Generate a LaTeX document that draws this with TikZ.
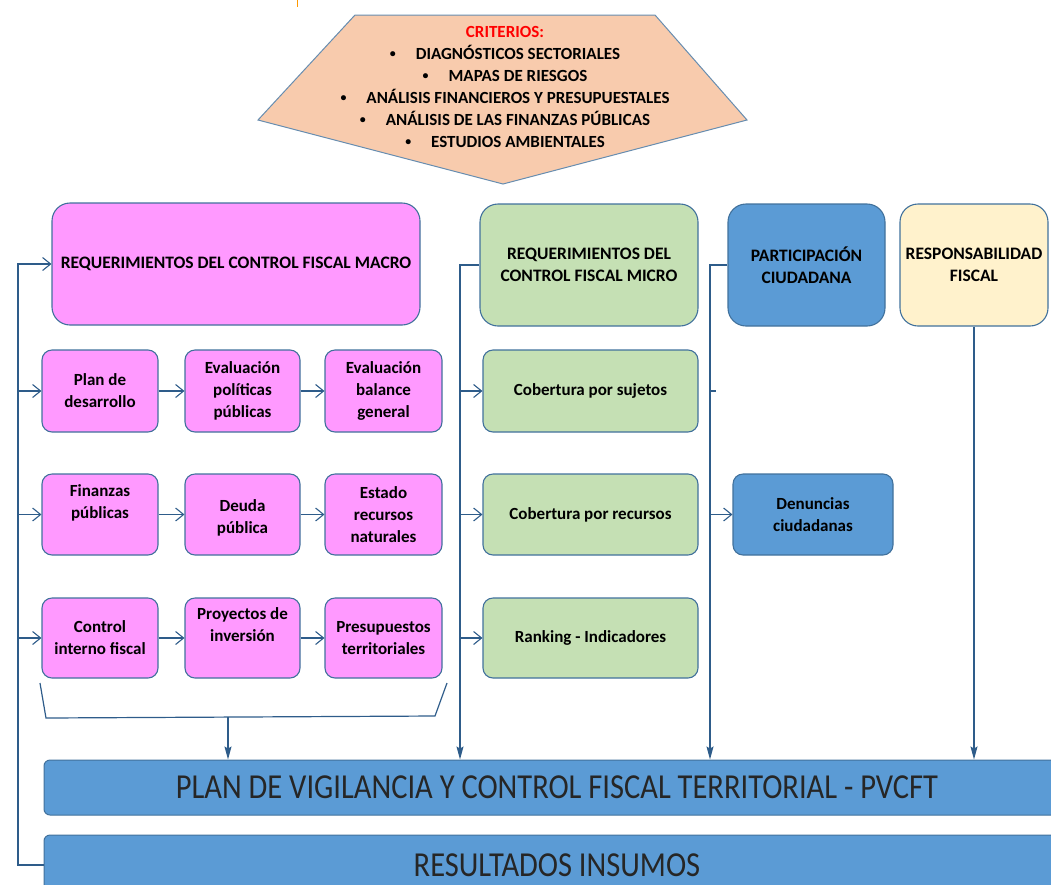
\documentclass[tikz,border=0pt]{standalone}
\usepackage{fontspec}
\setmainfont{Carlito}
\usetikzlibrary{arrows.meta}
\definecolor{bordc}{HTML}{41719C}
\definecolor{linec}{HTML}{2E5C8A}
\definecolor{pinkf}{HTML}{FF99FF}
\definecolor{greenf}{HTML}{C5E0B4}
\definecolor{bluef}{HTML}{5B9BD5}
\definecolor{yellf}{HTML}{FFF2CC}
\definecolor{peachf}{HTML}{F8CBAD}
\definecolor{redt}{HTML}{FF0000}
\newcommand{\bul}{\raisebox{1.5pt}{\scalebox{0.7}{\textbullet}}\hspace{20pt}}
\begin{document}
\begin{tikzpicture}[x=1pt,y=-1pt,
  box/.style={draw=bordc, line width=1.1pt, rounded corners=10pt, inner sep=0pt, align=center,
    font=\bfseries\fontsize{17}{22}\selectfont, text=black},
  bigbox/.style={box, rounded corners=18pt, font=\bfseries\fontsize{17.5}{22}\selectfont},
  pinkbox/.style={box, fill=pinkf},
  greenbox/.style={box, fill=greenf},
  bluebox/.style={box, fill=bluef},
  bar/.style={draw=bordc, line width=1pt, fill=bluef, rounded corners=6pt, inner sep=0pt,
    font=\fontsize{30.5}{32}\selectfont, text=black!85},
  conn/.style={draw=linec, line width=1.2pt},
  openarr/.style={conn, -{Straight Barb[length=8pt,width=13pt,line width=1.1pt]}},
  triarr/.style={conn, -{Stealth[length=13pt,width=7pt,inset=2pt]}}
]
\useasboundingbox (0,0) rectangle (1051,884);

% small yellow mark at top
\draw[draw=orange!80!yellow, line width=1.2pt] (297.5,0) -- (297.5,7);

% criteria pentagon
\coordinate (pA) at (355,15);
\coordinate (pB) at (655,15);
\coordinate (pC) at (747,120);
\coordinate (pD) at (503,184);
\coordinate (pE) at (258,120);
\draw[draw=bordc!80, line width=1pt, fill=peachf] (pA) -- (pB) -- (pC) -- (pD) -- (pE) -- cycle;
\node[align=center, font=\bfseries\fontsize{17}{22}\selectfont, inner sep=0pt, anchor=north] (crit) at (505,26)
  {\textcolor{redt}{CRITERIOS:}\\
   \bul DIAGNÓSTICOS SECTORIALES\\
   \bul MAPAS DE RIESGOS\\
   \bul ANÁLISIS FINANCIEROS Y PRESUPUESTALES\\
   \bul ANÁLISIS DE LAS FINANZAS PÚBLICAS\\
   \bul ESTUDIOS AMBIENTALES};

% macro column
\node[bigbox, fill=pinkf, minimum width=368pt, minimum height=122pt] (macro) at (236,264)
  {REQUERIMIENTOS DEL CONTROL FISCAL MACRO};
\node[pinkbox, minimum width=116pt, minimum height=82pt] (a1) at (100,391) {Plan de\\desarrollo};
\node[pinkbox, minimum width=115pt, minimum height=82pt] (b1) at (242.5,391) {Evaluación\\políticas\\públicas};
\node[pinkbox, minimum width=117pt, minimum height=82pt] (c1) at (383.5,391) {Evaluación\\balance\\general};
\node[pinkbox, minimum width=116pt, minimum height=81pt] (a2) at (100,514.5) {Finanzas\\públicas\\[4pt]};
\node[pinkbox, minimum width=115pt, minimum height=81pt] (b2) at (242.5,514.5) {\\[-4pt]Deuda\\pública};
\node[pinkbox, minimum width=117pt, minimum height=81pt] (c2) at (383.5,514.5) {Estado\\recursos\\naturales};
\node[pinkbox, minimum width=116pt, minimum height=80pt] (a3) at (100,638) {Control\\interno fiscal};
\node[pinkbox, minimum width=115pt, minimum height=80pt] (b3) at (242.5,638) {Proyectos de\\inversión\\[4pt]};
\node[pinkbox, minimum width=117pt, minimum height=80pt] (c3) at (383.5,638) {Presupuestos\\territoriales};

% micro column
\node[bigbox, fill=greenf, minimum width=218pt, minimum height=122pt] (micro) at (589,265)
  {REQUERIMIENTOS DEL\\CONTROL FISCAL MICRO};
\node[greenbox, minimum width=215pt, minimum height=82pt] (g1) at (590.5,391) {Cobertura por sujetos};
\node[greenbox, minimum width=215pt, minimum height=81pt] (g2) at (590.5,514.5) {Cobertura por recursos};
\node[greenbox, minimum width=215pt, minimum height=80pt] (g3) at (590.5,638) {Ranking - Indicadores};

% participation
\node[bigbox, fill=bluef, minimum width=157pt, minimum height=122pt] (part) at (806.5,265)
  {PARTICIPACIÓN\\CIUDADANA};
\node[bluebox, minimum width=160pt, minimum height=81pt] (den) at (813,514.5) {Denuncias\\ciudadanas};

% responsibility
\node[bigbox, fill=yellf, minimum width=148pt, minimum height=122pt] (resp) at (974,265)
  {RESPONSABILIDAD\\FISCAL};

% bottom bars
\node[bar, minimum width=1026pt, minimum height=55pt] (pv) at (557,787.5)
  {\scalebox{1}[1.15]{PLAN DE VIGILANCIA Y CONTROL FISCAL TERRITORIAL - PVCFT}};
\node[bar, minimum width=1026pt, minimum height=60pt] (res) at (557,865)
  {\scalebox{1}[1.15]{RESULTADOS INSUMOS}};

% left feedback line
\coordinate (lt) at (18,264);
\draw[openarr] (res.west) -| (lt) -- (macro.west);
\draw[openarr] (lt |- a1.west) -- (a1.west);
\draw[openarr] (lt |- a2.west) -- (a2.west);
\draw[openarr] (lt |- a3.west) -- (a3.west);

% row arrows
\draw[openarr] (a1.east) -- (b1.west);
\draw[openarr] (b1.east) -- (c1.west);
\draw[openarr] (a2.east) -- (b2.west);
\draw[openarr] (b2.east) -- (c2.west);
\draw[openarr] (a3.east) -- (b3.west);
\draw[openarr] (b3.east) -- (c3.west);

% bracket under macro boxes
\coordinate (k1) at (40,683);
\coordinate (k2) at (46,718);
\coordinate (k3) at (435,716);
\coordinate (k4) at (447,683);
\coordinate (km) at (228,717);
\draw[conn] (k1) -- (k2) -- (k3) -- (k4);
\draw[triarr] (km) -- (km |- pv.north);

% micro line
\coordinate (m0) at (460,265);
\draw[triarr] (micro.west) -- (m0) -- (m0 |- pv.north);
\draw[openarr] (m0 |- g1.west) -- (g1.west);
\draw[openarr] (m0 |- g2.west) -- (g2.west);
\draw[openarr] (m0 |- g3.west) -- (g3.west);

% participation line
\coordinate (p0) at (710,265);
\draw[triarr] (part.west) -- (p0) -- (p0 |- pv.north);
\draw[openarr] (p0 |- den.west) -- (den.west);
\coordinate (pst) at (716,391);
\draw[conn] (p0 |- pst) -- (pst);

% responsibility line
\draw[triarr] (resp.south) -- (resp.south |- pv.north);
\end{tikzpicture}
\end{document}
